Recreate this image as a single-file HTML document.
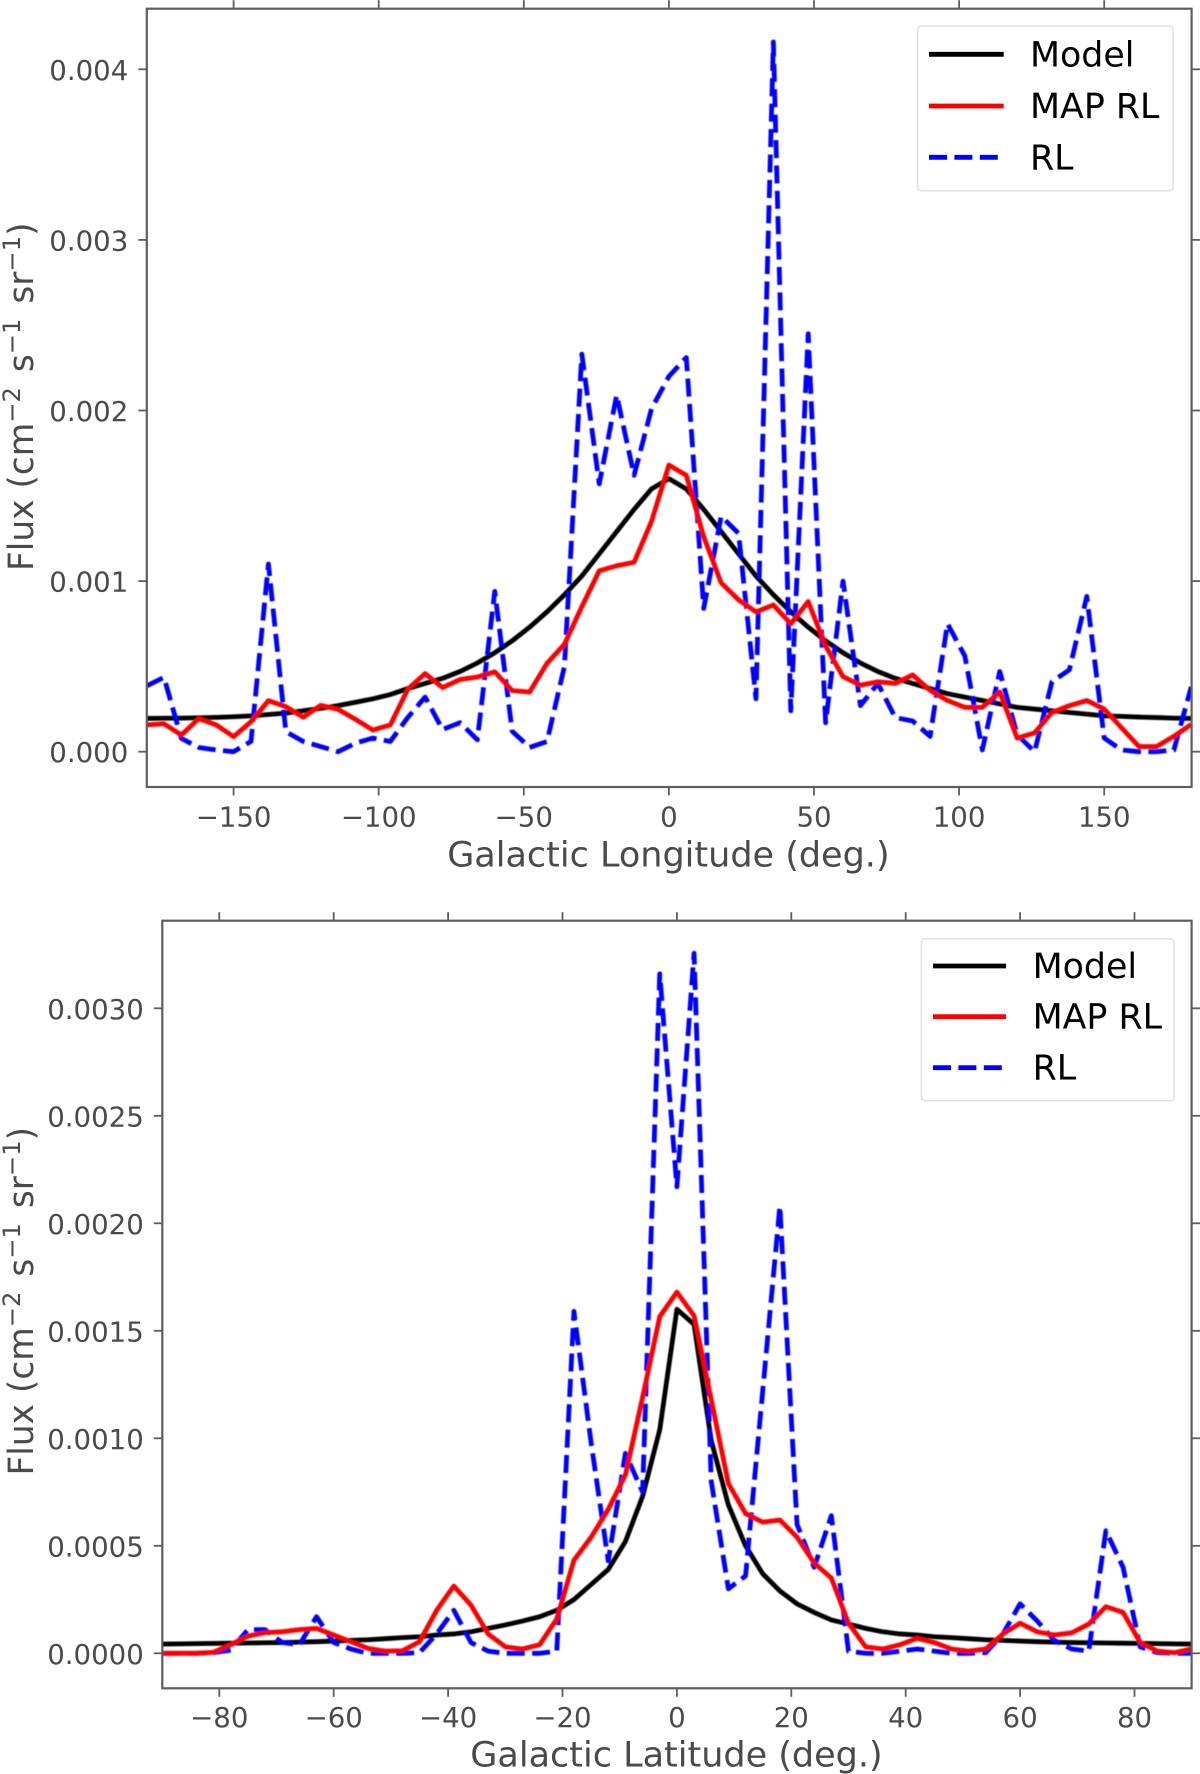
<!DOCTYPE html>
<html lang="en">
<head>
<meta charset="utf-8">
<title>Galactic flux profiles</title>
<style>
html,body{margin:0;padding:0;background:#fff;}
svg{display:block;font-family:"DejaVu Sans","Liberation Sans",sans-serif;}
.tick-label{fill:#4a4a4a;font-size:27.6px;}
.axis-title{fill:#4a4a4a;font-size:35px;}
.legend-text{fill:#000;font-size:34.8px;}
</style>
</head>
<body>
<svg id="figure" xmlns="http://www.w3.org/2000/svg" width="1200" height="1774" viewBox="0 0 1200 1774">
  <rect width="1200" height="1774" fill="#fff"/>
  <text class="axis-title" x="668.4" y="866.7" text-anchor="middle">Galactic Longitude (deg.)</text>
  <text class="axis-title" x="676.5" y="1766.7" text-anchor="middle">Galactic Latitude (deg.)</text>
  <text class="axis-title" transform="translate(33,571) rotate(-90)" style="font-size:34.4px">Flux (cm<tspan dy="-13" style="font-size:24.2px">−2</tspan><tspan dy="13" dx="4"> s</tspan><tspan dy="-13" style="font-size:24.2px">−1</tspan><tspan dy="13" dx="4"> sr</tspan><tspan dy="-13" style="font-size:24.2px">−1</tspan><tspan dy="13">)</tspan></text>
  <text class="axis-title" transform="translate(33,1475.5) rotate(-90)" style="font-size:34.4px">Flux (cm<tspan dy="-13" style="font-size:24.2px">−2</tspan><tspan dy="13" dx="4"> s</tspan><tspan dy="-13" style="font-size:24.2px">−1</tspan><tspan dy="13" dx="4"> sr</tspan><tspan dy="-13" style="font-size:24.2px">−1</tspan><tspan dy="13">)</tspan></text>
</svg>
<script>
const longitudes = [-180,-174,-168,-162,-156,-150,-144,-138,-132,-126,-120,-114,-108,-102,-96,-90,-84,-78,-72,-66,-60,-54,-48,-42,-36,-30,-24,-18,-12,-6,0,6,12,18,24,30,36,42,48,54,60,66,72,78,84,90,96,102,108,114,120,126,132,138,144,150,156,162,168,174,180];
const lonModel = [.000195,.000196,.000197,.000199,.000201,.000205,.00021,.000218,.000226,.00024,.000254,.00027,.00029,.00031,.000335,.00037,.0004,.00043,.00047,.00052,.00058,.00065,.00073,.00082,.00092,.00103,.00116,.00129,.00142,.00154,.0016,.00154,.00142,.00129,.00116,.00103,.00092,.00082,.00073,.00065,.00058,.00052,.00047,.00043,.0004,.00037,.00034,.00032,.0003,.00028,.00026,.00025,.00024,.00023,.00022,.00021,.000207,.000203,.0002,.000197,.000195];
const lonMapRL = [.000157,.000164,.000098,.000194,.000157,.000088,.000176,.000299,.000264,.000202,.000272,.000248,.00019,.000127,.000157,.000366,.000458,.000376,.000423,.000438,.000468,.000358,.00035,.000518,.00063,.00085,.00106,.00109,.00111,.00135,.00168,.00162,.00126,.00099,.00089,.00082,.00086,.00075,.00088,.00062,.00044,.00039,.00041,.0004,.00045,.00036,.0003,.00026,.00026,.00035,.00008,.00011,.00023,.00027,.0003,.00025,.00014,.00003,.00003,.00009,.00016];
const lonRL = [.000385,.000436,.000078,.000025,.00001,0,.00006,.0011,.000117,.00006,.00003,0,.00005,.00008,.00006,.0002,.00032,.00013,.00017,.00007,.00094,.00012,.000025,.00006,.0005,.00233,.00157,.00209,.00162,.00201,.0022,.00231,.00084,.00138,.00128,.00031,.00416,.00024,.00245,.00017,.001,.00027,.0004,.0002,.00018,.00009,.00075,.00056,.00001,.00047,.0001,0,.00041,.00048,.00091,.00008,.00001,0,0,.00001,.00038];
const lonXTicks = [-150,-100,-50,0,50,100,150];
const lonYTicks = [0,.001,.002,.003,.004];
const lonYTickLabels = ["0.000","0.001","0.002","0.003","0.004"];

const latitudes = [-90,-87,-84,-81,-78,-75,-72,-69,-66,-63,-60,-57,-54,-51,-48,-45,-42,-39,-36,-33,-30,-27,-24,-21,-18,-15,-12,-9,-6,-3,0,3,6,9,12,15,18,21,24,27,30,33,36,39,42,45,48,51,54,57,60,63,66,69,72,75,78,81,84,87,90];
const latModel = [.000043,.000044,.000045,.000046,.000047,.000048,.000049,.00005,.000052,.000054,.000057,.00006,.000063,.000068,.000073,.000077,.000085,.00009,.0001,.000116,.000132,.00015,.00017,.0002,.00025,.00032,.00039,.00052,.00073,.00104,.0016,.00153,.00099,.00069,.0005,.00037,.00029,.00023,.00019,.000155,.000136,.000116,.0001,.00009,.000085,.000077,.000073,.000068,.000063,.00006,.000057,.000054,.000052,.00005,.000049,.000048,.000047,.000046,.000045,.000044,.000043];
const latMapRL = [0,0,0,.000005,.00004,.00008,.000096,.0001,.00011,.000116,.000085,.000054,.000023,.00001,.000012,.000054,.0002,.000313,.000224,.00009,.00003,.00002,.00004,.00016,.000433,.00054,.00067,.00083,.00119,.001566,.00168,.00157,.00118,.00079,.00065,.00061,.00062,.00054,.00042,.00035,.00014,.00003,.00002,.00004,.00007,.00005,.00002,.00001,.00002,.00009,.00014,.0001,.000085,.000095,.000136,.000217,.00019,.00005,.00001,.000003,.00002];
const latRL = [0,0,0,.000003,.000015,.00011,.00011,.00005,.00004,.00017,.00005,.00002,0,0,0,.000003,.00009,.0002,.00005,.00001,0,0,0,.00001,.00159,.00098,.00043,.00093,.00075,.00316,.00217,.003256,.0008,.0003,.00036,.00122,.00208,.0006,.0004,.00064,.00001,0,0,.00001,.00002,.00001,0,0,.000003,.00009,.00023,.00015,.00006,.00002,.00001,.00057,.0004,.00003,.000003,0,0];
const latXTicks = [-80,-60,-40,-20,0,20,40,60,80];
const latYTicks = [0,.0005,.001,.0015,.002,.0025,.003];
const latYTickLabels = ["0.0000","0.0005","0.0010","0.0015","0.0020","0.0025","0.0030"];

const lineWidth = 4.8;
const dashPattern = "18 7.4";
const spineColor = "#5e5e5e";
const NS = "http://www.w3.org/2000/svg";
const svg = document.getElementById("figure");

function mk(tag, attrs, parent) {
  const el = document.createElementNS(NS, tag);
  for (const k in attrs) el.setAttribute(k, attrs[k]);
  (parent || svg).appendChild(el);
  return el;
}

function drawSeries(g, xs, ys, sx, sy, color, dash, label) {
  const d = xs.map((v, i) => (i ? "L" : "M") + sx(v).toFixed(2) + " " + sy(ys[i]).toFixed(2)).join(" ");
  const p = mk("path", {d: d, fill: "none", stroke: color, "stroke-width": lineWidth, "stroke-linejoin": "round"}, g);
  if (dash) p.setAttribute("stroke-dasharray", dash);
  
  
}

function drawTickLine(x1, y1, x2, y2, label) {
  const t = mk("line", {x1: x1, y1: y1, x2: x2, y2: y2, stroke: spineColor, "stroke-width": 1.8});
  
  
}

function drawPanel(cfg) {
  const sx = v => cfg.x0 + cfg.xScale * v;
  const sy = v => cfg.y0 - cfg.yScale * v;
  const clipId = cfg.prefix + "-clip";
  const defs = mk("defs", {});
  const cp = mk("clipPath", {id: clipId}, defs);
  mk("rect", {x: cfg.left, y: cfg.top, width: cfg.right - cfg.left, height: cfg.bottom - cfg.top}, cp);

  const g = mk("g", {"clip-path": "url(#" + clipId + ")", filter: "url(#soft)"});
  
  
  drawSeries(g, cfg.xs, cfg.model, sx, sy, "#000", null, cfg.prefix + "-model-line");
  drawSeries(g, cfg.xs, cfg.rl, sx, sy, "#0000ff", dashPattern, cfg.prefix + "-rl-line");
  drawSeries(g, cfg.xs, cfg.map, sx, sy, "#ff0000", null, cfg.prefix + "-map-rl-line");

  cfg.xTicks.forEach(v => {
    const x = sx(v);
    drawTickLine(x, cfg.bottom, x, cfg.bottom + 8.5, cfg.prefix + "-x-tick");
    drawTickLine(x, cfg.top, x, cfg.top - 8.5, cfg.prefix + "-top-tick");
    const t = mk("text", {x: x, y: cfg.bottom + cfg.xLabelOffset, "text-anchor": "middle", class: "tick-label"});
    t.textContent = String(v).replace("-", "\u2212");
    
    
  });
  cfg.yTicks.forEach((v, i) => {
    const y = sy(v);
    drawTickLine(cfg.left, y, cfg.left - 8.5, y, cfg.prefix + "-y-tick");
    drawTickLine(cfg.right, y, cfg.right + 8.5, y, cfg.prefix + "-right-tick");
    const t = mk("text", {x: cfg.left - 18.5, y: y + 10.5, "text-anchor": "end", class: "tick-label"});
    t.textContent = cfg.yLabels[i];
    
    
  });

  const frame = mk("rect", {x: cfg.left, y: cfg.top, width: cfg.right - cfg.left, height: cfg.bottom - cfg.top, fill: "none", stroke: spineColor, "stroke-width": 2.2});
  
  

  const lg = mk("g", {});
  
  
  const L = cfg.legend;
  const box = mk("rect", {x: L.x, y: L.y, width: L.w, height: L.h, rx: 3.5, fill: "#fff", "fill-opacity": 0.92, stroke: "#e0e0e0", "stroke-width": 1.5}, lg);
  
  
  const entries = [["Model", "#000", null], ["MAP RL", "#ff0000", null], ["RL", "#0000ff", dashPattern]];
  entries.forEach((e, i) => {
    const ln = mk("line", {x1: L.lineX1, x2: L.lineX2, y1: L.rows[i], y2: L.rows[i], stroke: e[1], "stroke-width": lineWidth}, lg);
    if (e[2]) ln.setAttribute("stroke-dasharray", e[2]);
    
    
    const t = mk("text", {x: L.textX, y: L.rows[i] + 12, class: "legend-text"}, lg);
    t.textContent = e[0];
    
    
  });
}

const sharedDefs = mk("defs", {});
const softFilter = mk("filter", {id: "soft", x: "-5%", y: "-5%", width: "110%", height: "110%"}, sharedDefs);
mk("feGaussianBlur", {stdDeviation: "0.4"}, softFilter);

drawPanel({
  prefix: "longitude",
  xs: longitudes, model: lonModel, map: lonMapRL, rl: lonRL,
  x0: 668.9, xScale: 2.902, y0: 751.7, yScale: 170600,
  left: 146.8, right: 1191.6, top: 8.7, bottom: 787,
  xTicks: lonXTicks, yTicks: lonYTicks, yLabels: lonYTickLabels, xLabelOffset: 39.5,
  legend: {x: 917.6, y: 26, w: 255.4, h: 164.7, lineX1: 929, lineX2: 1003.7, textX: 1030, rows: [54.3, 106, 157.3]}
});
drawPanel({
  prefix: "latitude",
  xs: latitudes, model: latModel, map: latMapRL, rl: latRL,
  x0: 676.9, xScale: 5.72, y0: 1653.3, yScale: 215000,
  left: 162.3, right: 1191.6, top: 920.7, bottom: 1688.3,
  xTicks: latXTicks, yTicks: latYTicks, yLabels: latYTickLabels, xLabelOffset: 38.5,
  legend: {x: 921.4, y: 938.7, w: 252.6, h: 162, lineX1: 933, lineX2: 1006, textX: 1032.6, rows: [966, 1016.7, 1067.7]}
});
</script>
</body>
</html>
